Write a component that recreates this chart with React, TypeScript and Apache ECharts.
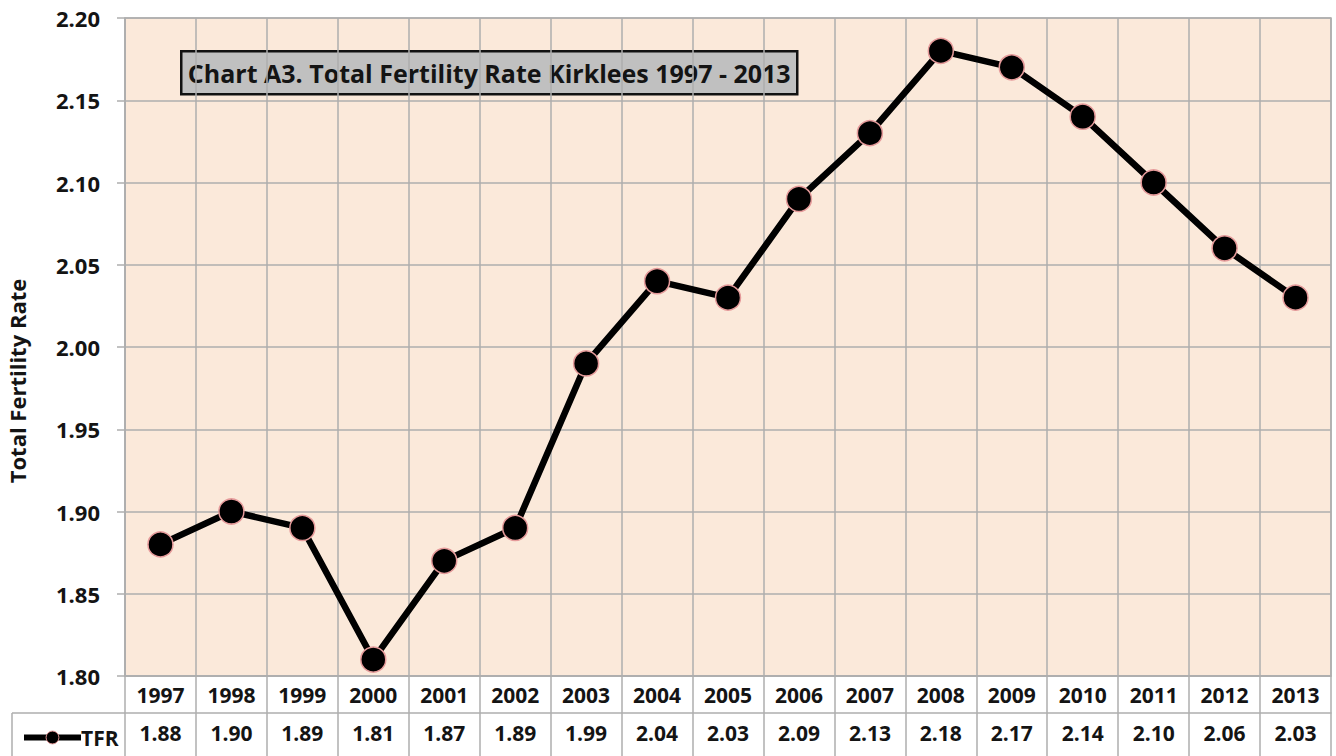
import React, { useEffect, useRef } from "react";
import * as echarts from "echarts";

const years = ["1997","1998","1999","2000","2001","2002","2003","2004","2005","2006","2007","2008","2009","2010","2011","2012","2013"];
const tfr = [1.88,1.90,1.89,1.81,1.87,1.89,1.99,2.04,2.03,2.09,2.13,2.18,2.17,2.14,2.10,2.06,2.03];
const seriesName = "TFR";
const titleText = "Chart A3. Total Fertility Rate Kirklees 1997 - 2013";
const yAxisName = "Total Fertility Rate";
const yMin = 1.8;
const yMax = 2.2;
const yStep = 0.05;

const FONT = "'Open Sans', Lato, sans-serif";
const GRID = "#AEAEAE";
const TEXT = "#141414";

export default function App() {
  const ref = useRef<HTMLDivElement>(null);
  useEffect(() => {
    if (!ref.current) return;
    const chart = echarts.init(ref.current, null, { renderer: "svg" });
    const axisLabelStyle = { fontFamily: FONT, fontWeight: "bold" as const, fontSize: 21, color: TEXT };
    chart.setOption({
      animation: false,
      backgroundColor: "#ffffff",
      grid: {
        left: 125, right: 5, top: 18, bottom: 80,
        show: true, backgroundColor: "#FBE9DA", borderColor: GRID, borderWidth: 1.5,
      },
      legend: {
        data: [seriesName],
        left: 16, top: 722,
        itemWidth: 57, itemHeight: 16,
        itemGap: 4,
        lineStyle: { width: 6, color: "#000" },
        itemStyle: { color: "#000", borderColor: "#E59A9A", borderWidth: 1 },
        textStyle: { fontFamily: FONT, fontWeight: "bold", fontSize: 21, color: TEXT, padding: [0, 0, 0, -5] },
      },
      graphic: [
        { type: "line", shape: { x1: 12, y1: 713, x2: 125, y2: 713 }, style: { stroke: GRID, lineWidth: 1.5 } },
        { type: "line", shape: { x1: 12, y1: 713, x2: 12, y2: 756 }, style: { stroke: GRID, lineWidth: 1.5 } },
        {
          type: "text", x: 17, y: 381, rotation: Math.PI / 2,
          style: { text: yAxisName, fill: TEXT, font: `bold 22px ${FONT}`, align: "center", verticalAlign: "middle" },
        },
        {
          type: "group", left: 180, top: 50,
          children: [
            { type: "rect", shape: { x: 0, y: 0, width: 616, height: 43 }, style: { fill: "#C0C0C0", stroke: "#111", lineWidth: 2.5 } },
            { type: "text", x: 308, y: 22, style: { text: titleText, fill: TEXT, font: `bold 25px ${FONT}`, align: "center", verticalAlign: "middle" } },
          ],
        },
      ],
      xAxis: [
        {
          type: "category",
          data: years,
          boundaryGap: true,
          position: "bottom",
          axisLine: { show: true, lineStyle: { color: GRID, width: 1.5 } },
          axisTick: { show: true, length: 37, interval: 0, lineStyle: { color: GRID, width: 1.5 } },
          axisLabel: { ...axisLabelStyle, margin: 8, interval: 0 },
          splitLine: { show: true, interval: 0, lineStyle: { color: GRID, width: 1.5 } },
        },
        {
          type: "category",
          data: tfr.map((v) => v.toFixed(2)),
          boundaryGap: true,
          position: "bottom",
          offset: 37,
          axisLine: { show: true, lineStyle: { color: GRID, width: 1.5 } },
          axisTick: { show: true, length: 45, interval: 0, lineStyle: { color: GRID, width: 1.5 } },
          axisLabel: { ...axisLabelStyle, margin: 9, interval: 0 },
          splitLine: { show: false },
        },
      ],
      yAxis: {
        type: "value",
        min: yMin, max: yMax, interval: yStep,
        axisLine: { show: true, lineStyle: { color: GRID, width: 1.5 } },
        axisTick: { show: true, length: 8, lineStyle: { color: GRID, width: 1.5 } },
        axisLabel: { ...axisLabelStyle, fontSize: 22, margin: 25, formatter: (v: number) => v.toFixed(2) },
        splitLine: { show: true, lineStyle: { color: GRID, width: 1.5 } },
      },
      series: [
        {
          name: seriesName,
          type: "line",
          xAxisIndex: 0,
          data: tfr,
          symbol: "circle",
          symbolSize: 25,
          lineStyle: { color: "#000", width: 6.5 },
          itemStyle: { color: "#000", borderColor: "#E59A9A", borderWidth: 1.5 },
          emphasis: { disabled: true },
        },
      ],
    });
    return () => chart.dispose();
  }, []);
  return <div ref={ref} style={{ position: "absolute", left: 0, top: 0, width: 1336, height: 756 }} />;
}
